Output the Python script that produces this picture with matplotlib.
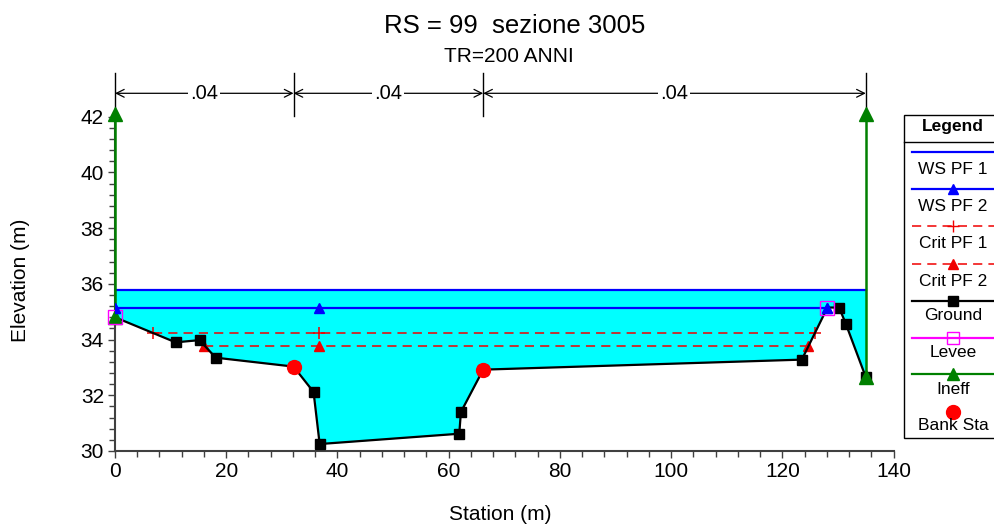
import matplotlib
matplotlib.use("Agg")
import matplotlib.pyplot as plt
from matplotlib.lines import Line2D
from matplotlib.patches import Rectangle
from matplotlib.ticker import MultipleLocator

plt.rcParams['font.family'] = ['Liberation Sans', 'DejaVu Sans']

# Sezione trasversale RS 99
ground_sta = [0.0, 10.9, 15.2, 18.1, 32.1, 35.7, 36.8, 61.9, 62.2, 66.2, 123.5, 128.1, 130.2, 131.4, 135.0]
ground_elev = [34.80, 33.90, 33.98, 33.35, 33.03, 32.12, 30.25, 30.62, 31.40, 32.92, 33.28, 35.15, 35.15, 34.57, 32.65]

ws_pf1_sta = [0.0, 135.0]
ws_pf1_elev = 35.78
ws_pf2_sta = [0.0, 36.7, 128.1]
ws_pf2_elev = 35.15
crit_pf1_sta = [6.9, 36.7, 125.8]
crit_pf1_elev = 34.23
crit_pf2_sta = [16.0, 36.7, 124.6]
crit_pf2_elev = 33.78

levee_sta = [0.0, 128.1]
levee_elev = [34.80, 35.15]
ineff_sta = [0.0, 135.0]
ineff_low = [34.80, 32.65]
ineff_top = 42.1
bank_sta = [32.1, 66.2]
bank_elev = [33.03, 32.92]

n_bounds = [0.0, 32.1, 66.2, 135.0]
n_values = [".04", ".04", ".04"]

BLUE = '#0000ff'
RED = '#f00000'
GREEN = '#008000'
MAGENTA = '#ff00ff'
AXC = '#404040'

fig = plt.figure(figsize=(9.94, 5.25), dpi=100)
ax = fig.add_axes([115 / 994, 1 - 451 / 525, 778.6 / 994, 334.3 / 525])

# acqua PF 1
ax.fill_between(ground_sta, ground_elev, ws_pf1_elev, color='#00ffff', lw=0, zorder=1)
ax.plot(ws_pf1_sta, [ws_pf1_elev] * 2, color=BLUE, lw=1.6, zorder=3)
ax.plot(ws_pf2_sta, [ws_pf2_elev] * 3, color=BLUE, lw=1.6, marker='^', ms=6.5, zorder=4)
ax.plot(crit_pf1_sta, [crit_pf1_elev] * 3, color=RED, lw=1.1, dashes=(6, 4),
        marker='+', ms=8, mew=1.1, zorder=3)
ax.plot(crit_pf2_sta, [crit_pf2_elev] * 3, color=RED, lw=1.1, dashes=(6, 4),
        marker='^', ms=6.5, zorder=3)

# terreno
marked = [i for i in range(len(ground_sta)) if i not in (0, 11)]
ax.plot(ground_sta, ground_elev, color='black', lw=1.6, marker='s', ms=7,
        markevery=marked, zorder=5)

# aree inefficaci
for s, lo in zip(ineff_sta, ineff_low):
    ax.plot([s, s], [lo, ineff_top], color=GREEN, lw=1.8, marker='^', ms=10,
            clip_on=False, zorder=6)

ax.plot(levee_sta, levee_elev, ls='none', marker='s', ms=10, mfc='none',
        mec=MAGENTA, mew=1.0, zorder=7, clip_on=False)
ax.plot(ws_pf2_sta[::2], [ws_pf2_elev] * 2, ls='none', marker='^', ms=6.5,
        color=BLUE, zorder=8)
ax.plot(bank_sta, bank_elev, ls='none', marker='o', ms=10, color='#ff0000', zorder=8)

# coefficienti di Manning sopra la sezione
n_line_y, n_top, n_bot = 42.84, 43.56, 42.03
for b in n_bounds:
    ax.plot([b, b], [n_bot, n_top], color='black', lw=1.0, clip_on=False)
for i, nv in enumerate(n_values):
    x0, x1 = n_bounds[i], n_bounds[i + 1]
    ax.annotate('', xy=(x1, n_line_y), xytext=(x0, n_line_y), annotation_clip=False,
                arrowprops=dict(arrowstyle='<->', lw=0.9, color='black',
                                shrinkA=0, shrinkB=0, mutation_scale=14))
    ax.text((x0 + x1) / 2, n_line_y, nv, ha='center', va='center', fontsize=14.5,
            bbox=dict(facecolor='white', edgecolor='none', pad=1.5), clip_on=False)

ax.set_xlim(0, 140)
ax.set_ylim(30, 42)
ax.xaxis.set_major_locator(MultipleLocator(20))
ax.xaxis.set_minor_locator(MultipleLocator(4))
ax.yaxis.set_major_locator(MultipleLocator(2))
ax.yaxis.set_minor_locator(MultipleLocator(0.4))
ax.tick_params(which='major', direction='out', length=5, width=1, color=AXC,
               labelsize=15, pad=3)
ax.tick_params(which='minor', direction='out', length=4, width=1, color=AXC)
for side in ('top', 'right'):
    ax.spines[side].set_visible(False)
for side in ('left', 'bottom'):
    ax.spines[side].set_color(AXC)
    ax.spines[side].set_linewidth(1.5)

ax.set_xlabel('Station (m)', fontsize=15)
ax.set_ylabel('Elevation (m)', fontsize=15)
ax.xaxis.set_label_coords((500 - 115) / 778.6, (451 - 505) / 334.3)
ax.yaxis.set_label_coords((30 - 115) / 778.6, (451 - 280) / 334.3)

fig.text(515 / 994, 1 - 26 / 525, 'RS = 99  sezione 3005', ha='center', va='center', fontsize=18.5)
fig.text(509 / 994, 1 - 57 / 525, 'TR=200 ANNI', ha='center', va='center', fontsize=15)

# legenda
lax = fig.add_axes([0, 0, 1, 1])
lax.set_xlim(0, 994)
lax.set_ylim(525, 0)
lax.axis('off')
lax.add_patch(Rectangle((903.5, 115), 120, 323, fc='white', ec='black', lw=1.0))
lax.plot([903.5, 1000], [141.7, 141.7], color='black', lw=1.0)
lax.text(953, 127, 'Legend', ha='center', va='center', fontsize=12.5, fontweight='bold')

entries = [
    ('WS PF 1', 151.7, 169.3, dict(color=BLUE, lw=1.6)),
    ('WS PF 2', 189.3, 206.7, dict(color=BLUE, lw=1.6, marker='^', ms=6.5)),
    ('Crit PF 1', 226.0, 243.3, dict(color=RED, lw=1.1, dashes=(6, 4), marker='+', ms=8)),
    ('Crit PF 2', 264.0, 281.7, dict(color=RED, lw=1.1, dashes=(6, 4), marker='^', ms=6.5)),
    ('Ground', 300.7, 315.0, dict(color='black', lw=1.6, marker='s', ms=7)),
    ('Levee', 337.7, 352.5, dict(color=MAGENTA, lw=1.6, marker='s', ms=9, mfc='none')),
    ('Ineff', 374.0, 390.0, dict(color=GREEN, lw=1.6, marker='^', ms=9)),
    ('Bank Sta', 411.7, 425.5, dict(color='#ff0000', ls='none', marker='o', ms=10)),
]
for label, ly, ty, style in entries:
    lax.add_line(Line2D([911.5, 953, 1000], [ly] * 3, markevery=[1], **style))
    lax.text(953, ty, label, ha='center', va='center', fontsize=12.5)

fig.savefig('out.png', dpi=100)
